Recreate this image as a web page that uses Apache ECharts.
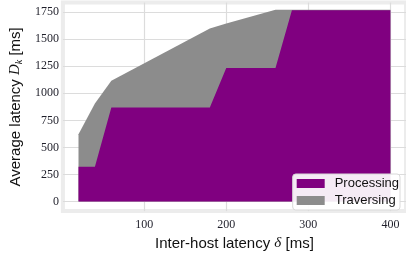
<!DOCTYPE html>
<html><head><meta charset="utf-8">
<script src="https://cdn.jsdelivr.net/npm/echarts@6/dist/echarts.min.js"></script>
<style>html,body{margin:0;padding:0;background:#fff}#c{width:406px;height:256px}</style>
</head><body><div id="c"></div>
<script>
const latency = [20, 40, 60, 180, 200, 260, 280, 400];
const processing = [323, 323, 869, 869, 1234, 1234, 1768, 1768];
const traversing = [299, 582, 246, 729, 410, 538, 4, 4];
const yTicks = [0, 250, 500, 750, 1000, 1250, 1500, 1750];
const xTicks = [100, 200, 300, 400];

const totals = processing.map((p, i) => p + traversing[i]);
const chart = echarts.init(document.getElementById('c'), null, {renderer: 'canvas'});
const tickFont = {fontFamily: "'Liberation Serif', serif", fontSize: 12, color: '#1f1f2a'};
const nameFont = "'Liberation Sans', sans-serif";
chart.setOption({
  animation: false,
  grid: {left: 59.5, right: -4.7, top: 2.6, bottom: 38.5, show: true,
         borderColor: '#ececec', borderWidth: 4, backgroundColor: '#ffffff'},
  legend: {
    orient: 'vertical', right: 6, bottom: 46,
    data: ['Processing', 'Traversing'],
    icon: 'rect', itemWidth: 28, itemHeight: 9, itemGap: 4,
    padding: [3, 1, 3, 4],
    backgroundColor: 'rgba(255,255,255,0.92)', borderColor: '#d9d9d9', borderWidth: 1, borderRadius: 3,
    textStyle: {fontFamily: nameFont, fontSize: 13, color: '#111', padding: [0, 0, 0, 5]}
  },
  xAxis: {
    type: 'value', min: 1, max: 419,
    axisLine: {show: false}, axisTick: {show: false, customValues: xTicks},
    axisLabel: Object.assign({customValues: xTicks, margin: 8, formatter: v => String(v)}, tickFont),
    splitLine: {show: true, lineStyle: {color: '#dcdcdc', width: 1.2}},
    name: 'Inter-host latency {i|δ} [ms]', nameLocation: 'middle', nameGap: 17,
    nameTextStyle: {fontFamily: nameFont, fontSize: 15, color: '#111',
      rich: {i: {fontFamily: "'Liberation Serif', serif", fontStyle: 'italic', fontSize: 15, color: '#111'}}}
  },
  yAxis: {
    type: 'value', min: -87.5, max: 1837.5,
    axisLine: {show: false}, axisTick: {show: false, customValues: yTicks},
    axisLabel: Object.assign({customValues: yTicks, margin: 4, formatter: v => String(v)}, tickFont),
    splitLine: {show: true, lineStyle: {color: '#dcdcdc', width: 1.2}},
    name: 'Average latency {i|D}{s|k} [ms]', nameLocation: 'middle', nameGap: 37, nameRotate: 90,
    nameTextStyle: {fontFamily: nameFont, fontSize: 15, color: '#111',
      rich: {i: {fontFamily: "'Liberation Serif', serif", fontStyle: 'italic', fontSize: 15, color: '#111'},
             s: {fontFamily: "'Liberation Serif', serif", fontStyle: 'italic', fontSize: 10, color: '#111', padding: [7, 0, 0, 0]}}}
  },
  series: [
    {name: 'Traversing', type: 'line', symbol: 'none', z: 2,
     data: latency.map((x, i) => [x, totals[i]]),
     lineStyle: {width: 0}, itemStyle: {color: '#8c8c8c'}, areaStyle: {color: '#8c8c8c', opacity: 1, origin: 0}},
    {name: 'Processing', type: 'line', symbol: 'none', z: 3,
     data: latency.map((x, i) => [x, processing[i]]),
     lineStyle: {width: 0}, itemStyle: {color: '#800080'}, areaStyle: {color: '#800080', opacity: 1, origin: 0}}
  ]
});
</script></body></html>
